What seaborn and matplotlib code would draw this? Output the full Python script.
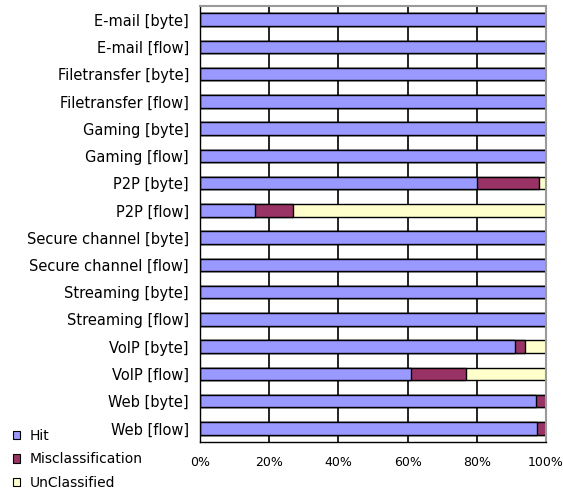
import matplotlib
matplotlib.use("Agg")
import matplotlib.pyplot as plt
import numpy as np
import pandas as pd
import seaborn as sns
from matplotlib.patches import Patch

categories = [
    "E-mail [byte]", "E-mail [flow]",
    "Filetransfer [byte]", "Filetransfer [flow]",
    "Gaming [byte]", "Gaming [flow]",
    "P2P [byte]", "P2P [flow]",
    "Secure channel [byte]", "Secure channel [flow]",
    "Streaming [byte]", "Streaming [flow]",
    "VoIP [byte]", "VoIP [flow]",
    "Web [byte]", "Web [flow]",
]
hit = [100, 100, 100, 100, 100, 100, 80, 16, 100, 100, 100, 100, 91, 61, 97, 97.5]
misclassification = [0, 0, 0, 0, 0, 0, 18, 11, 0, 0, 0, 0, 3, 16, 3, 2.5]
unclassified = [0, 0, 0, 0, 0, 0, 2, 73, 0, 0, 0, 0, 6, 23, 0, 0]
x_ticks = [0, 20, 40, 60, 80, 100]

series_names = ["Hit", "Misclassification", "UnClassified"]
colors = ["#9999FF", "#993366", "#FFFFCC"]

df = pd.DataFrame({
    "category": categories,
    "Hit": hit,
    "Misclassification": misclassification,
    "UnClassified": unclassified,
})
# cumulative right edges of the stacked segments
df["cum_hit"] = df["Hit"]
df["cum_mis"] = df["Hit"] + df["Misclassification"]
df["cum_unc"] = df["cum_mis"] + df["UnClassified"]

sns.set_style("white")
plt.rcParams["font.family"] = ["DejaVu Sans"]
plt.rcParams["text.color"] = "black"
plt.rcParams["xtick.color"] = "black"
plt.rcParams["ytick.color"] = "black"

fig = plt.figure(figsize=(5.63, 4.97), dpi=100)
ax = fig.add_axes([200 / 563, 1 - 442 / 497, 346 / 563, 436 / 497])

# vertical grid lines
for t in x_ticks[1:-1]:
    ax.axvline(t, color="black", lw=1.2, zorder=0)

# draw from the widest (total) to the narrowest so each segment shows
for col, color in [("cum_unc", colors[2]),
                   ("cum_mis", colors[1]),
                   ("cum_hit", colors[0])]:
    sns.barplot(data=df, x=col, y="category", orient="h", color=color,
                edgecolor="black", linewidth=1.0, width=0.45, ax=ax,
                saturation=1, zorder=2)

ax.set_xlim(0, 100)
ax.set_ylim(len(categories) - 0.5, -0.5)
ax.set_xlabel("")
ax.set_ylabel("")

ax.set_xticks(x_ticks)
ax.set_xticklabels([f"{t}%" for t in x_ticks], fontsize=9, color="black")
ax.tick_params(axis="x", direction="out", length=4, width=1, color="black", pad=6)

ax.set_yticks(range(len(categories)))
ax.set_yticklabels(categories, fontsize=10.5, color="black")
ax.tick_params(axis="y", which="major", length=0, pad=8)
ax.set_yticks(np.arange(-0.5, len(categories), 1.0), minor=True)
ax.tick_params(axis="y", which="minor", direction="out", length=4, width=1, color="black")

for side in ["left", "bottom"]:
    ax.spines[side].set_color("black")
    ax.spines[side].set_linewidth(1.0)
for side in ["top", "right"]:
    ax.spines[side].set_color("#999999")
    ax.spines[side].set_linewidth(1.5)

# legend in the lower-left corner of the figure
handles = [Patch(facecolor=c, edgecolor="black", linewidth=0.8) for c in colors]
leg = fig.legend(handles, series_names, loc="lower left", bbox_to_anchor=(0.01, 0.0),
                 frameon=False, fontsize=10, handlelength=0.55, handleheight=0.55,
                 handletextpad=0.7, labelspacing=0.7, borderaxespad=0.0,
                 borderpad=0.5)
for txt in leg.get_texts():
    txt.set_color("black")

fig.savefig("out.png", dpi=100)
